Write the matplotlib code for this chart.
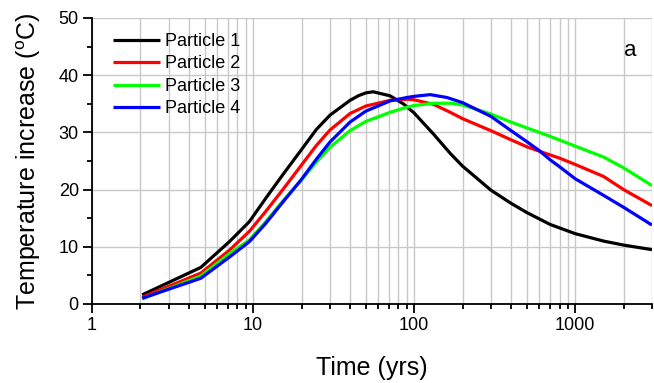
import numpy as np
import matplotlib
matplotlib.use("Agg")
import matplotlib.pyplot as plt
from matplotlib.ticker import LogLocator, NullFormatter, MultipleLocator, FixedLocator, FixedFormatter

plt.rcParams['font.family'] = ['Liberation Sans', 'DejaVu Sans']
plt.rcParams['mathtext.fontset'] = 'custom'
plt.rcParams['mathtext.rm'] = 'Liberation Sans'
plt.rcParams['mathtext.it'] = 'Liberation Sans'

# Data
t1 = [2.05, 4.74, 7.13, 9.49, 12, 15.3, 20, 24.7, 30, 40, 45, 50, 55.7, 70.8, 85.7, 100, 132, 168, 200, 300, 400, 500, 700, 1000, 1500, 2000, 3000]
p1 = [1.6, 6.4, 10.9, 14.4, 18.5, 22.6, 27.0, 30.5, 33.0, 35.6, 36.4, 36.9, 37.1, 36.4, 35.0, 33.4, 29.7, 26.3, 24.1, 19.9, 17.6, 16.0, 13.9, 12.3, 11.0, 10.3, 9.5]

t2 = [2.05, 4.74, 7.13, 9.49, 12, 15.3, 20, 24.7, 30, 40, 50, 70.8, 90, 100, 132, 168, 200, 300, 400, 500, 600, 800, 1000, 1500, 2000, 3000]
p2 = [1.2, 5.4, 9.4, 12.7, 16.2, 20.0, 24.3, 27.7, 30.4, 33.3, 34.6, 35.6, 35.8, 35.7, 34.9, 33.5, 32.4, 30.3, 28.7, 27.5, 26.7, 25.5, 24.4, 22.3, 20.0, 17.2]

t3 = [2.05, 4.74, 7.13, 9.49, 12, 15.3, 20, 24.7, 30, 40, 50, 70.8, 90, 100, 132, 170, 200, 300, 400, 500, 700, 1000, 1500, 2000, 3000]
p3 = [0.9, 4.9, 8.8, 11.2, 14.4, 18.0, 21.7, 24.8, 27.4, 30.3, 31.9, 33.5, 34.4, 34.7, 35.1, 35.1, 34.8, 33.2, 31.8, 30.8, 29.3, 27.6, 25.7, 23.8, 20.7]

t4 = [2.05, 4.74, 7.13, 9.49, 12, 15.3, 20, 24.7, 30, 40, 50, 70.8, 90, 100, 126, 160, 200, 300, 400, 500, 600, 700, 800, 1000, 1500, 2000, 3000]
p4 = [1.0, 4.5, 8.2, 10.9, 14.1, 17.8, 21.8, 25.3, 28.3, 31.8, 33.7, 35.5, 36.1, 36.3, 36.6, 36.1, 35.2, 32.8, 30.3, 28.4, 26.8, 25.2, 24.0, 21.9, 19.0, 16.9, 13.8]

labels = ['Particle 1', 'Particle 2', 'Particle 3', 'Particle 4']
colors = ['#000000', '#ff0000', '#00ff00', '#0000ff']
xticks = [1, 10, 100, 1000]
xticklabels = ['1', '10', '100', '1000']

fig = plt.figure(figsize=(6.54, 3.83), dpi=100)
ax = fig.add_axes([92/654, 1-304/383, 560/654, (304-18)/383])

for t, p, lab, c in zip([t1, t2, t3, t4], [p1, p2, p3, p4], labels, colors):
    ax.plot(t, p, color=c, lw=2.3, label=lab, solid_capstyle='butt', solid_joinstyle='round')

ax.set_xscale('log')
ax.set_xlim(1, 3000)
ax.set_ylim(0, 50)
ax.xaxis.set_major_locator(FixedLocator(xticks))
ax.xaxis.set_major_formatter(FixedFormatter(xticklabels))
ax.xaxis.set_minor_locator(LogLocator(base=10, subs=np.arange(2, 10), numticks=20))
ax.xaxis.set_minor_formatter(NullFormatter())
ax.yaxis.set_major_locator(MultipleLocator(10))
ax.yaxis.set_minor_locator(MultipleLocator(5))

ax.grid(True, which='major', axis='both', color='#c8c8c8', lw=1)
ax.grid(True, which='minor', axis='x', color='#c8c8c8', lw=1)
ax.set_axisbelow(True)

for s in ['top', 'right']:
    ax.spines[s].set_visible(False)
for s in ['left', 'bottom']:
    ax.spines[s].set_linewidth(1.3)

ax.tick_params(which='major', direction='out', length=6.5, width=1.3, labelsize=13, pad=3)
ax.tick_params(which='minor', direction='out', length=3.5, width=1.3)

ax.set_xlabel('Time (yrs)', fontsize=18, labelpad=16)
ax.set_ylabel(r'Temperature increase ($^{\mathrm{o}}$C)', fontsize=18, labelpad=11)

ax.legend(loc='upper left', frameon=False, fontsize=13, handlelength=2.6,
          handletextpad=0.3, labelspacing=0.3, borderpad=0, borderaxespad=0,
          bbox_to_anchor=((113-92)/560, 1-(33-18)/286))
fig.text(630/654, 1-50/383, 'a', fontsize=16, ha='center', va='center')

fig.savefig('out.png', dpi=100)
